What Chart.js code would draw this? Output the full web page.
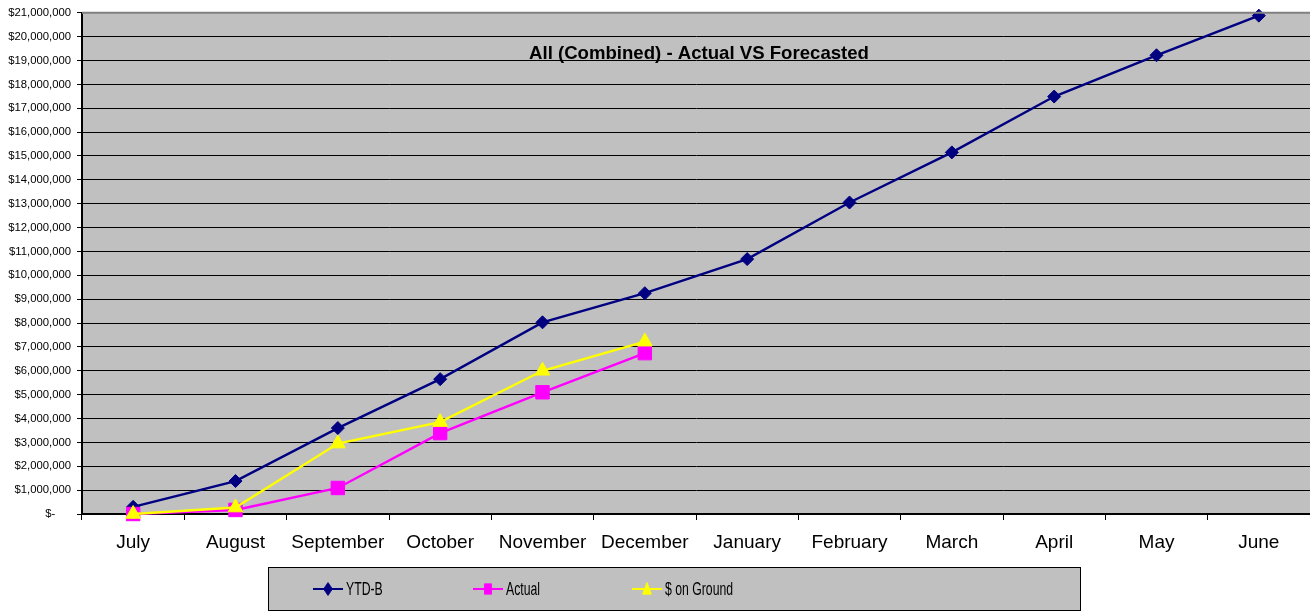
<!DOCTYPE html>
<html>
<head>
<meta charset="utf-8">
<title>All (Combined) - Actual VS Forecasted</title>
<script src="https://cdn.jsdelivr.net/npm/chart.js@4/dist/chart.umd.min.js"></script>
<style>
  html, body { margin: 0; padding: 0; background: #ffffff; }
  #wrap { width: 1310px; height: 612px; }
</style>
</head>
<body>
<div id="wrap"><canvas id="chart" width="1310" height="612"></canvas></div>
<script>
// Fiscal months
const months = ['July', 'August', 'September', 'October', 'November', 'December',
                'January', 'February', 'March', 'April', 'May', 'June'];

// Year-to-date budget (cumulative)
const ytdBudget = [300000, 1380000, 3600000, 5650000, 8030000, 9250000,
                   10680000, 13050000, 15150000, 17490000, 19220000, 20880000];

// Actual spend to date
const actual = [0, 170000, 1090000, 3390000, 5100000, 6740000];

// Dollars on the ground to date
const onGround = [0, 270000, 2950000, 3850000, 6000000, 7220000];

const seriesNames = ['YTD-B', 'Actual', '$ on Ground'];
const chartTitle = 'All (Combined) - Actual VS Forecasted';

const yMax = 21000000;
const yStep = 1000000;

const FONT = '"Liberation Sans", Arial, Helvetica, sans-serif';

function moneyLabel(v) {
  if (v === 0) return '$-     ';
  return '$' + Number(v).toLocaleString('en-US');
}

// Grey plot background and top border
const plotBackground = {
  id: 'plotBackground',
  beforeDraw(chart) {
    const a = chart.chartArea;
    const ctx = chart.ctx;
    ctx.save();
    ctx.fillStyle = '#c0c0c0';
    ctx.fillRect(a.left, a.top, a.right - a.left, a.bottom - a.top);
    ctx.restore();
  },
  afterDraw(chart) {
    const a = chart.chartArea;
    const ctx = chart.ctx;
    ctx.save();
    ctx.strokeStyle = '#808080';
    ctx.lineWidth = 2;
    ctx.beginPath();
    ctx.moveTo(a.left, a.top);
    ctx.lineTo(a.right, a.top);
    ctx.stroke();
    ctx.restore();
  }
};

// Title drawn inside the plot area
const innerTitle = {
  id: 'innerTitle',
  afterDatasetsDraw(chart) {
    const a = chart.chartArea;
    const ctx = chart.ctx;
    ctx.save();
    ctx.font = 'bold 18.6px ' + FONT;
    ctx.fillStyle = '#000';
    ctx.textAlign = 'center';
    ctx.textBaseline = 'middle';
    ctx.fillText(chartTitle, (a.left + a.right) / 2 + 3, a.top + 41);
    ctx.restore();
  }
};

// Legend marker, squeezed horizontally like the legend text
function drawMarker(ctx, style, x, y, r, color) {
  ctx.save();
  ctx.translate(x, y);
  ctx.scale(0.68, 1);
  ctx.fillStyle = color;
  ctx.strokeStyle = color;
  ctx.lineWidth = 1;
  ctx.beginPath();
  if (style === 'rectRot') {
    ctx.moveTo(0, -r); ctx.lineTo(r, 0); ctx.lineTo(0, r); ctx.lineTo(-r, 0);
  } else if (style === 'rect') {
    const h = r * 0.8;
    ctx.rect(-h, -h, 2 * h, 2 * h);
  } else {
    ctx.moveTo(0, -r); ctx.lineTo(r, r * 0.8); ctx.lineTo(-r, r * 0.8);
  }
  ctx.closePath();
  ctx.fill();
  ctx.stroke();
  ctx.restore();
}

// Boxed legend below the axis
const boxedLegend = {
  id: 'boxedLegend',
  afterDraw(chart) {
    const ctx = chart.ctx;
    const box = { x: 268.5, y: 567.5, w: 812, h: 43 };
    ctx.save();
    ctx.fillStyle = '#c0c0c0';
    ctx.fillRect(box.x, box.y, box.w, box.h);
    ctx.strokeStyle = '#000';
    ctx.lineWidth = 1;
    ctx.strokeRect(box.x, box.y, box.w, box.h);
    const starts = [313, 473, 632];
    const cy = box.y + box.h / 2;
    chart.data.datasets.slice().sort((p, q) => p.legendIndex - q.legendIndex).forEach((ds, i) => {
      const x0 = starts[i];
      ctx.strokeStyle = ds.borderColor;
      ctx.lineWidth = 2;
      ctx.beginPath();
      ctx.moveTo(x0, cy);
      ctx.lineTo(x0 + 30, cy);
      ctx.stroke();
      drawMarker(ctx, ds.pointStyle, x0 + 15, cy, 6.5, ds.pointBackgroundColor);
      ctx.fillStyle = '#000';
      ctx.font = '18px ' + FONT;
      ctx.textAlign = 'left';
      ctx.textBaseline = 'middle';
      ctx.save();
      ctx.translate(x0 + 33, cy + 1);
      ctx.scale(0.68, 1);
      ctx.fillText(ds.label, 0, 0);
      ctx.restore();
    });
    ctx.restore();
  }
};

const ctx = document.getElementById('chart').getContext('2d');
new Chart(ctx, {
  type: 'line',
  data: {
    labels: months,
    datasets: [
      {
        label: seriesNames[0], legendIndex: 0, order: 2,
        data: ytdBudget,
        borderColor: '#000080', backgroundColor: '#000080',
        pointBackgroundColor: '#000080', pointBorderColor: '#000080',
        pointStyle: 'rectRot', pointRadius: 6.5, pointBorderWidth: 1,
        borderWidth: 2.4, tension: 0, fill: false, clip: 12
      },
      {
        label: seriesNames[1], legendIndex: 1, order: 1,
        data: actual,
        borderColor: '#ff00ff', backgroundColor: '#ff00ff',
        pointBackgroundColor: '#ff00ff', pointBorderColor: '#ff00ff',
        pointStyle: 'rect', pointRadius: 9.5, pointBorderWidth: 1,
        borderWidth: 2.4, tension: 0, fill: false, clip: 12
      },
      {
        label: seriesNames[2], legendIndex: 2, order: 0,
        data: onGround,
        borderColor: '#ffff00', backgroundColor: '#ffff00',
        pointBackgroundColor: '#ffff00', pointBorderColor: '#ffff00',
        pointStyle: 'triangle', pointRadius: 8.5, pointBorderWidth: 1,
        borderWidth: 2.4, tension: 0, fill: false, clip: 12
      }
    ]
  },
  options: {
    responsive: false,
    devicePixelRatio: 1,
    animation: false,
    layout: { autoPadding: false, padding: { top: 12, left: 0, right: 0, bottom: 0 } },
    plugins: {
      legend: { display: false },
      title: { display: false },
      tooltip: { enabled: false }
    },
    scales: {
      x: {
        type: 'category',
        offset: true,
        grid: {
          offset: true,
          drawOnChartArea: false,
          drawTicks: true,
          tickLength: 6,
          tickColor: '#000',
          tickWidth: 1
        },
        border: { color: '#000', width: 2 },
        ticks: {
          color: '#000',
          font: { family: FONT, size: 19 },
          padding: 11,
          maxRotation: 0,
          autoSkip: false
        },
        afterFit(scale) {
          scale.height = 98;
          scale.paddingLeft = 0;
          scale.paddingRight = 0;
        }
      },
      y: {
        min: 0,
        max: yMax,
        grid: {
          color: (c) => (c.tick && c.tick.value === yMax) ? 'rgba(0,0,0,0)' : '#000',
          lineWidth: 1,
          drawTicks: true,
          tickLength: 5,
          tickColor: '#000'
        },
        border: { color: '#000', width: 2 },
        ticks: {
          stepSize: yStep,
          autoSkip: false,
          color: '#000',
          font: { family: FONT, size: 11.3 },
          padding: 6,
          callback: (v) => moneyLabel(v)
        },
        afterFit(scale) { scale.width = 82; }
      }
    }
  },
  plugins: [plotBackground, innerTitle, boxedLegend]
});
</script>
</body>
</html>
